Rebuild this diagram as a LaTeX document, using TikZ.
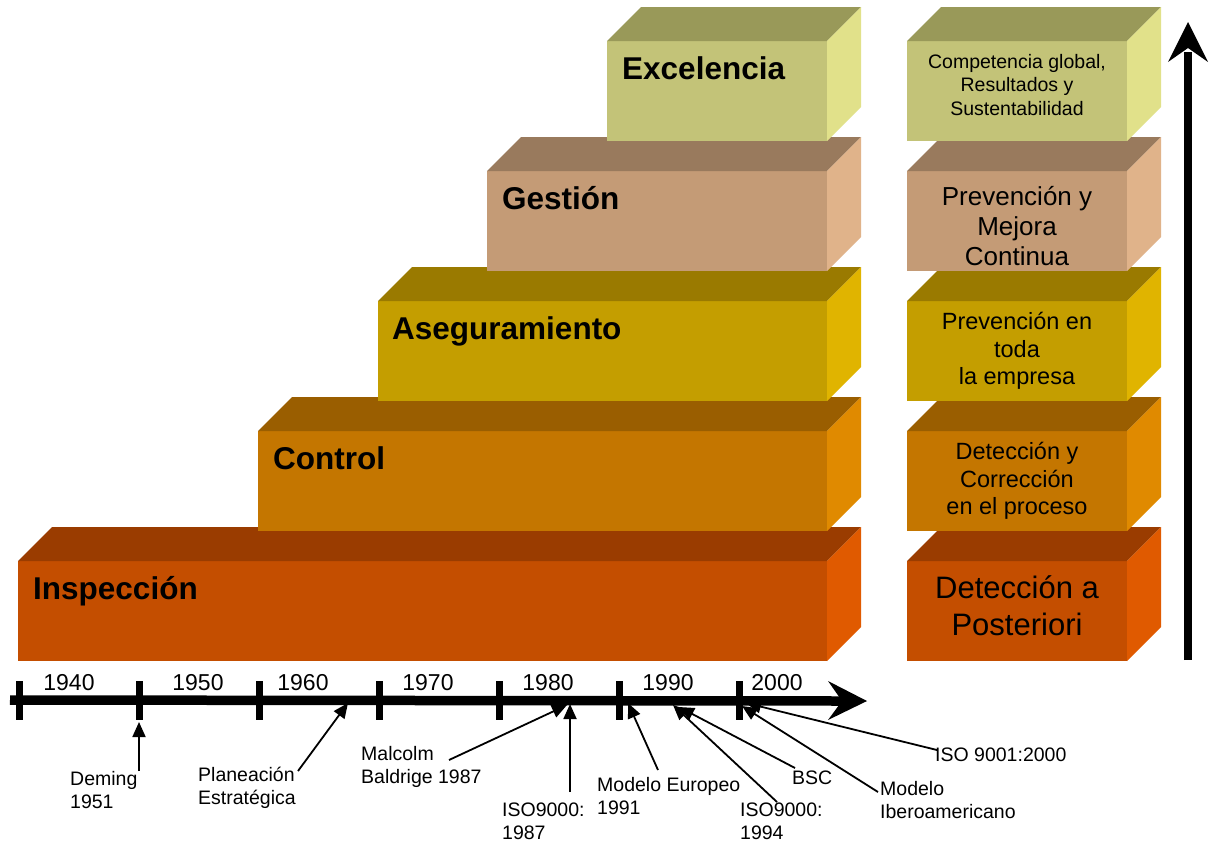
\documentclass[tikz,border=0pt]{standalone}
\usepackage{fontspec}
\setmainfont{Liberation Sans}
\usetikzlibrary{arrows.meta,calc}

\definecolor{inspF}{HTML}{C44E00}\definecolor{inspT}{HTML}{9A3C00}\definecolor{inspS}{HTML}{E05A00}
\definecolor{ctrlF}{HTML}{C47600}\definecolor{ctrlT}{HTML}{9A5E00}\definecolor{ctrlS}{HTML}{E08A00}
\definecolor{asegF}{HTML}{C49E00}\definecolor{asegT}{HTML}{9A7A00}\definecolor{asegS}{HTML}{E0B400}
\definecolor{gestF}{HTML}{C49B76}\definecolor{gestT}{HTML}{997A5D}\definecolor{gestS}{HTML}{E0B38A}
\definecolor{exceF}{HTML}{C3C378}\definecolor{exceT}{HTML}{999959}\definecolor{exceS}{HTML}{E1E18A}

\newcommand{\qbox}[5]{%
  \node[face, minimum width=#4pt, fill=#5F] (#1) at (#2,#3) {};
  \fill[#5T] (#1.north west) -- ++(34,-34) -- ++(#4,0) -- (#1.north east) -- cycle;
  \fill[#5S] (#1.north east) -- ++(34,-34) -- ++(0,100) -- (#1.south east) -- cycle;
}

\tikzset{
  face/.style={rectangle, inner sep=0pt, outer sep=0pt, minimum height=100pt, anchor=north west, draw=none},
  lbl/.style={anchor=base west, inner sep=0pt, font=\fontsize{31.5}{37}\selectfont\bfseries},
  rtxt/.style={align=center, inner sep=0pt},
  year/.style={inner sep=0pt, font=\fontsize{23}{27}\selectfont},
  note/.style={anchor=west, align=left, inner sep=0pt, font=\fontsize{19.5}{23}\selectfont},
  callout/.style={line width=1.8pt, -{Triangle[length=15pt,width=13pt]}},
  tick/.style={line width=7pt},
}

\begin{document}
\begin{tikzpicture}[x=1pt,y=-1pt]
\useasboundingbox[fill=white] (0,0) rectangle (1209,844);

% left stack
\qbox{insp}{18}{561}{809}{insp}
\qbox{ctrl}{258}{431}{569}{ctrl}
\qbox{aseg}{378}{301}{449}{aseg}
\qbox{gest}{487}{171}{340}{gest}
\qbox{exce}{607}{41}{220}{exce}
\node[lbl] (linsp) at (33,599) {Inspección};
\node[lbl] (lctrl) at (273,469) {Control};
\node[lbl] (laseg) at (392,339) {Aseguramiento};
\node[lbl] (lgest) at (502,209) {Gestión};
\node[lbl] (lexce) at (622,79) {Excelencia};

% right stack
\qbox{rinsp}{907}{561}{220}{insp}
\qbox{rctrl}{907}{431}{220}{ctrl}
\qbox{raseg}{907}{301}{220}{aseg}
\qbox{rgest}{907}{171}{220}{gest}
\qbox{rexce}{907}{41}{220}{exce}
\node[rtxt, font=\fontsize{31}{37}\selectfont] (tinsp) at (1017,606) {Detección a\\Posteriori};
\node[rtxt, font=\fontsize{23.5}{27.5}\selectfont] (tctrl) at (1017,481) {Detección y\\Corrección\\en el proceso};
\node[rtxt, font=\fontsize{23.5}{27.5}\selectfont] (taseg) at (1017,351) {Prevención en\\toda\\la empresa};
\node[rtxt, font=\fontsize{26}{30}\selectfont] (tgest) at (1017,226) {Prevención y\\Mejora\\Continua};
\node[rtxt, font=\fontsize{19.5}{23.5}\selectfont] (texce) at (1017,85) {Competencia global,\\Resultados y\\Sustentabilidad};

% vertical arrow
\coordinate (vbot) at (1188,660);
\coordinate (vtop) at (1188,22);
\draw[line width=8pt] (vbot) -- ($(vtop)+(0,30)$);
\fill (vtop) -- ++(-20,40) -- ++(20,-14) -- ++(20,14) -- cycle;

% timeline
\coordinate (hstart) at (10,700);
\coordinate (htip) at (867,701);
\draw[line width=9.5pt] (hstart) -- ($(htip)+(-24,0)$);
\fill (htip) -- ++(-39,-20) -- ++(14,20) -- ++(-14,19) -- cycle;
\foreach \i/\x in {0/19,1/139,2/259,3/379,4/499,5/619,6/739}{
  \coordinate (tk\i) at (\x,681);
  \draw[tick] (tk\i) -- ++(0,39);
}
\node[year] (y1940) at (69,683) {1940};
\node[year] (y1950) at (198,683) {1950};
\node[year] (y1960) at (303,683) {1960};
\node[year] (y1970) at (428,683) {1970};
\node[year] (y1980) at (548,683) {1980};
\node[year] (y1990) at (668,683) {1990};
\node[year] (y2000) at (777,683) {2000};

% callout texts
\node[note] (deming) at (70,790) {Deming\\1951};
\node[note] (plan) at (198,788) {Planeación\\Estratégica};
\node[note] (malc) at (361,767) {Malcolm\\Baldrige 1987};
\node[note] (iso87) at (502,821) {ISO9000:\\1987};
\node[note] (euro) at (597,796) {Modelo Europeo\\1991};
\node[note] (iso94) at (740,821) {ISO9000:\\1994};
\node[note] (bsc) at (792,778) {BSC};
\node[note] (ibero) at (880,800) {Modelo\\Iberoamericano};
\node[note] (iso00) at (935,755) {ISO 9001:2000};

% callout connectors
\coordinate (sDem) at (139,771);  \coordinate (eDem) at (139,722);
\coordinate (sPla) at (298,771);  \coordinate (ePla) at (348,703);
\coordinate (sMal) at (449,760);  \coordinate (eMal) at (567,705);
\coordinate (sI87) at (570,792);  \coordinate (eI87) at (570,704);
\coordinate (sEur) at (658,770);  \coordinate (eEur) at (628,703);
\coordinate (sI94) at (777,802);  \coordinate (eI94) at (673,705);
\coordinate (sBSC) at (795,768);  \coordinate (eBSC) at (679,707);
\coordinate (sIbe) at (878,792);  \coordinate (eIbe) at (742,706);
\coordinate (sI00) at (937,750);  \coordinate (eI00) at (746,703);
\foreach \n in {Dem,Pla,Mal,I87,Eur,I94,BSC,Ibe,I00}{
  \draw[callout] (s\n) -- (e\n);
}
\end{tikzpicture}
\end{document}
